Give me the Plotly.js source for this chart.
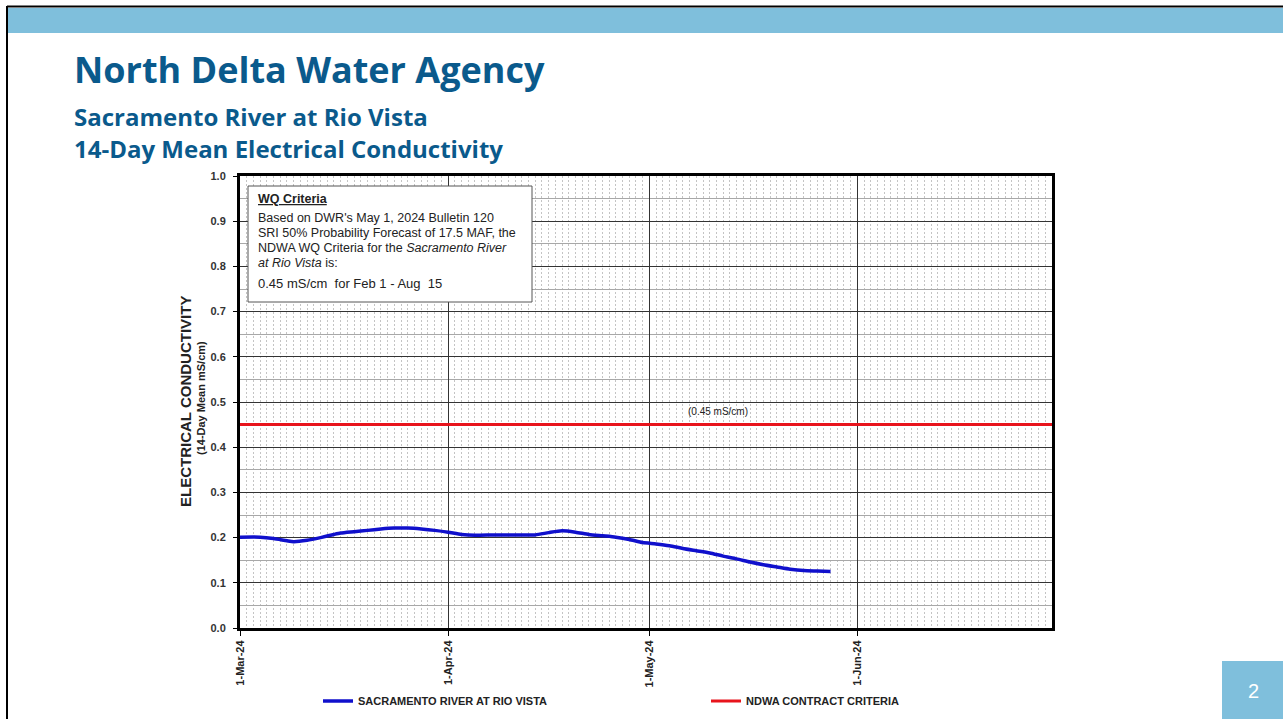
<!DOCTYPE html>
<html>
<head>
<meta charset="utf-8">
<script src="https://cdn.plot.ly/plotly-3.0.1.min.js"></script>
<style>
  html, body { margin: 0; padding: 0; background: #ffffff; overflow: hidden; }
  #chart { width: 1283px; height: 719px; }
</style>
</head>
<body>
<div id="chart"></div>
<script>
// ---- Data ----
const dates = [
  '2024-03-01','2024-03-04','2024-03-06','2024-03-08','2024-03-09','2024-03-11',
  '2024-03-13','2024-03-15','2024-03-16','2024-03-18','2024-03-20','2024-03-22',
  '2024-03-24','2024-03-26','2024-03-28','2024-03-30','2024-04-01','2024-04-03',
  '2024-04-05','2024-04-08','2024-04-11','2024-04-14','2024-04-16','2024-04-18',
  '2024-04-20','2024-04-22','2024-04-24','2024-04-26','2024-04-28','2024-04-30',
  '2024-05-02','2024-05-04','2024-05-06','2024-05-08','2024-05-10','2024-05-12',
  '2024-05-14','2024-05-16','2024-05-18','2024-05-20','2024-05-22','2024-05-24',
  '2024-05-26','2024-05-28'
];
const ecValues = [
  0.201, 0.201, 0.198, 0.193, 0.191, 0.194,
  0.200, 0.207, 0.210, 0.213, 0.216, 0.219,
  0.221, 0.221, 0.219, 0.216, 0.212, 0.207,
  0.205, 0.206, 0.206, 0.206, 0.211, 0.215,
  0.212, 0.207, 0.204, 0.201, 0.196, 0.189,
  0.186, 0.182, 0.176, 0.171, 0.166, 0.159,
  0.153, 0.146, 0.140, 0.135, 0.130, 0.127,
  0.126, 0.125
];
const criteriaDates = ['2024-03-01', '2024-06-30'];
const criteriaValues = [0.45, 0.45];
const xTickVals = ['2024-03-01', '2024-04-01', '2024-05-01', '2024-06-01'];
const xTickText = ['1-Mar-24', '1-Apr-24', '1-May-24', '1-Jun-24'];
const seriesNames = ['SACRAMENTO RIVER AT RIO VISTA', 'NDWA CONTRACT CRITERIA'];
const criteriaNoteLines = [
  'Based on DWR\'s May 1, 2024 Bulletin 120',
  'SRI 50% Probability Forecast of 17.5 MAF, the',
  'NDWA WQ Criteria for the <i>Sacramento River</i>',
  '<i>at Rio Vista</i> is:'
];

// ---- Layout helpers (pixel -> paper) ----
const L = 240, R = 1052, T = 176, B = 628;
const W = 1283, H = 719;
const px = x => (x - L) / (R - L);
const py = y => (B - y) / (B - T);

const chartFont = 'Liberation Sans, Arial, sans-serif';
const titleFont = 'Open Sans, Lato, sans-serif';
const titleColor = '#0a5a8c';
const bandColor = '#7fbfdc';

const traces = [
  {
    x: dates, y: ecValues, type: 'scatter', mode: 'lines',
    name: seriesNames[0], legend: 'legend',
    line: { color: '#1010cc', width: 3.5, shape: 'spline', smoothing: 0.6 }
  },
  {
    x: criteriaDates, y: criteriaValues, type: 'scatter', mode: 'lines',
    name: seriesNames[1], legend: 'legend2',
    line: { color: '#e8141c', width: 3 }
  }
];

const legendFont = { family: chartFont, size: 11, weight: 'bold', color: '#222' };

const noteAnnotations = criteriaNoteLines.map((t, i) => ({
  xref: 'paper', yref: 'paper', x: px(256), y: py(218 + 15 * i), xanchor: 'left', yanchor: 'middle',
  showarrow: false, align: 'left', text: t, font: { family: chartFont, size: 12.5, color: '#222' }
}));

const layout = {
  width: W, height: H,
  margin: { l: L, r: W - R, t: T, b: H - B, pad: 0, autoexpand: false },
  paper_bgcolor: '#ffffff', plot_bgcolor: '#ffffff',
  font: { family: chartFont, color: '#222' },
  showlegend: true,
  legend: {
    orientation: 'h', x: px(318), xanchor: 'left', y: py(701), yanchor: 'middle',
    font: legendFont, bgcolor: 'rgba(0,0,0,0)'
  },
  legend2: {
    orientation: 'h', x: px(706), xanchor: 'left', y: py(701), yanchor: 'middle',
    font: legendFont, bgcolor: 'rgba(0,0,0,0)'
  },
  xaxis: {
    type: 'date',
    range: ['2024-03-01', '2024-06-30'],
    tickmode: 'array', tickvals: xTickVals, ticktext: xTickText,
    tickangle: -90,
    tickfont: { family: chartFont, size: 11, weight: 'bold', color: '#222' },
    ticks: 'outside', ticklen: 5, tickcolor: '#000', tickwidth: 1,
    showgrid: true, gridcolor: '#333', gridwidth: 1,
    minor: { dtick: 86400000, tick0: '2024-03-01', showgrid: true, gridcolor: '#c4c4c4', griddash: '2px,2px', gridwidth: 1 },
    showline: true, linecolor: '#000', linewidth: 3, mirror: true,
    zeroline: false, fixedrange: true, automargin: false
  },
  yaxis: {
    range: [0, 1], dtick: 0.1, tick0: 0, tickformat: '.1f',
    tickfont: { family: chartFont, size: 11, weight: 'bold', color: '#333' },
    ticks: 'outside', ticklen: 4, tickcolor: '#000', ticklabelstandoff: 5,
    showgrid: true, gridcolor: '#333', gridwidth: 1,
    minor: { dtick: 0.05, showgrid: true, gridcolor: '#a8a8a8', gridwidth: 1 },
    showline: true, linecolor: '#000', linewidth: 3, mirror: true,
    zeroline: false, fixedrange: true, automargin: false
  },
  shapes: [
    // slide frame
    { type: 'line', xref: 'paper', yref: 'paper', x0: px(7), x1: px(1290), y0: py(6.5), y1: py(6.5), line: { color: '#000', width: 2 } },
    { type: 'line', xref: 'paper', yref: 'paper', x0: px(7), x1: px(7), y0: py(6), y1: py(725), line: { color: '#000', width: 2 } },
    // top band
    { type: 'rect', xref: 'paper', yref: 'paper', x0: px(8), x1: px(1290), y0: py(8), y1: py(33), fillcolor: bandColor, line: { width: 0 }, layer: 'below' },
    // page number box
    { type: 'rect', xref: 'paper', yref: 'paper', x0: px(1222), x1: px(1290), y0: py(661), y1: py(725), fillcolor: bandColor, line: { width: 0 } },
    // WQ criteria box
    { type: 'rect', xref: 'paper', yref: 'paper', x0: px(248), x1: px(532), y0: py(186), y1: py(302), fillcolor: '#ffffff', line: { color: '#555', width: 1 }, layer: 'above' }
  ],
  annotations: [
    { xref: 'paper', yref: 'paper', x: px(72), y: py(70), xanchor: 'left', yanchor: 'middle', showarrow: false,
      text: '<b>North Delta Water Agency</b>', font: { family: titleFont, size: 36, color: titleColor } },
    { xref: 'paper', yref: 'paper', x: px(73), y: py(116), xanchor: 'left', yanchor: 'middle', showarrow: false, borderpad: 0,
      text: '<b>Sacramento River at Rio Vista</b>', font: { family: titleFont, size: 24, color: titleColor } },
    { xref: 'paper', yref: 'paper', x: px(73), y: py(149), xanchor: 'left', yanchor: 'middle', showarrow: false, borderpad: 0,
      text: '<b>14-Day Mean Electrical Conductivity</b>', font: { family: titleFont, size: 24, color: titleColor } },
    { xref: 'paper', yref: 'paper', x: px(1253), y: py(691), xanchor: 'center', yanchor: 'middle', showarrow: false,
      text: '2', font: { family: 'Liberation Sans, Arial, sans-serif', size: 20, color: '#ffffff' } },
    // y-axis title (two lines, rotated)
    { xref: 'paper', yref: 'paper', x: px(185), y: py(402), xanchor: 'center', yanchor: 'middle', showarrow: false, textangle: -90,
      text: '<b>ELECTRICAL CONDUCTIVITY</b>', font: { family: chartFont, size: 15, color: '#222' } },
    { xref: 'paper', yref: 'paper', x: px(201), y: py(398), xanchor: 'center', yanchor: 'middle', showarrow: false, textangle: -90,
      text: '<b>(14-Day Mean mS/cm)</b>', font: { family: chartFont, size: 11, color: '#222' } },
    // WQ criteria text
    { xref: 'paper', yref: 'paper', x: px(256), y: py(199), xanchor: 'left', yanchor: 'middle', showarrow: false,
      text: '<b><span style="text-decoration:underline">WQ Criteria</span></b>', font: { family: chartFont, size: 12.5, color: '#222' } },
    ...noteAnnotations,
    { xref: 'paper', yref: 'paper', x: px(256), y: py(283), xanchor: 'left', yanchor: 'middle', showarrow: false,
      text: '0.45 mS/cm&nbsp;&nbsp;for Feb 1 - Aug&nbsp;&nbsp;15', font: { family: chartFont, size: 13, color: '#222' } },
    { xref: 'paper', yref: 'paper', x: px(718), y: py(411), xanchor: 'center', yanchor: 'middle', showarrow: false,
      text: '(0.45 mS/cm)', font: { family: chartFont, size: 10, color: '#222' } }
  ]
};

Plotly.newPlot('chart', traces, layout, { displayModeBar: false, staticPlot: true });
</script>
</body>
</html>
